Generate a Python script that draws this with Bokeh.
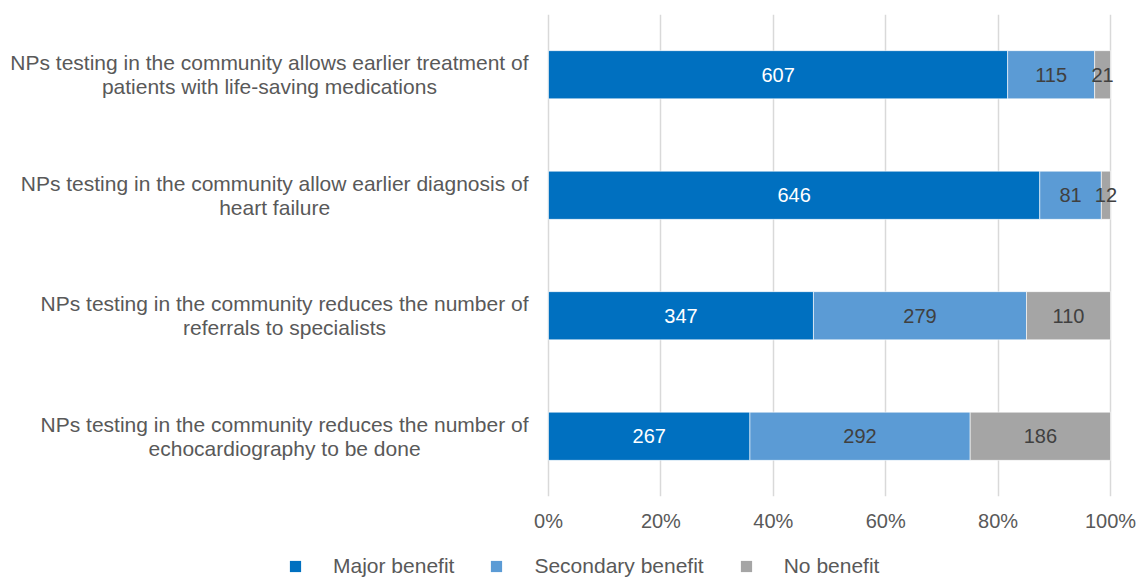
from bokeh.plotting import figure
from bokeh.layouts import column
from bokeh.models import (FactorRange, Range1d, NumeralTickFormatter, FixedTicker,
                          Legend, LegendItem, ColumnDataSource)
from bokeh.embed import file_html
from bokeh.resources import INLINE
from bokeh.core.properties import value

categories = [
    "NPs testing in the community allows earlier treatment of\npatients with life-saving medications",
    "NPs testing in the community allow earlier diagnosis of\nheart failure",
    "NPs testing in the community reduces the number of\nreferrals to specialists",
    "NPs testing in the community reduces the number of\nechocardiography to be done",
]
major = [607, 646, 347, 267]
secondary = [115, 81, 279, 292]
no_benefit = [21, 12, 110, 186]
series_names = ["Major benefit", "Secondary benefit", "No benefit"]
colors = ["#0070C0", "#5B9BD5", "#A5A5A5"]
ticks = [0, 0.2, 0.4, 0.6, 0.8, 1.0]

FONT = "Liberation Sans"
W, H = 1137, 578
H1 = 540                      # main chart height, legend strip below
ZERO_PX, FULL_PX = 548, 1110  # pixel positions of 0% and 100%
scale = FULL_PX - ZERO_PX

totals = [a + b + c for a, b, c in zip(major, secondary, no_benefit)]
f_major = [a / t for a, t in zip(major, totals)]
f_sec = [b / t for b, t in zip(secondary, totals)]
f_no = [c / t for c, t in zip(no_benefit, totals)]

src = ColumnDataSource(dict(cat=categories, major=f_major, secondary=f_sec, none=f_no))

p = figure(width=W, height=H1, output_backend="svg", toolbar_location=None,
           y_range=FactorRange(factors=list(reversed(categories))),
           x_range=Range1d(-ZERO_PX / scale, 1 + (W - FULL_PX) / scale),
           min_border_left=0, min_border_right=0, min_border_top=14, min_border_bottom=44)
p.outline_line_color = None
p.background_fill_color = "white"
p.border_fill_color = "white"

renderers = p.hbar_stack(["major", "secondary", "none"], y="cat", height=0.4, color=colors,
                         line_color="white", line_width=0.6, source=src)

# value labels
lab_x, lab_y, lab_t, lab_c = [], [], [], []
for i, cat in enumerate(categories):
    starts = [0, f_major[i], f_major[i] + f_sec[i]]
    widths = [f_major[i], f_sec[i], f_no[i]]
    vals = [major[i], secondary[i], no_benefit[i]]
    for j in range(3):
        lab_x.append(starts[j] + widths[j] / 2)
        lab_y.append(cat)
        lab_t.append(str(vals[j]))
        lab_c.append("white" if j == 0 else "#404040")
p.text(x=lab_x, y=lab_y, text=lab_t, text_color=lab_c, text_align="center",
       text_baseline="middle", text_font=value(FONT), text_font_size="20px")

# category labels
p.text(x=[0] * len(categories), y=categories, text=categories, x_offset=-20,
       anchor="center_right", text_align="center", text_baseline="middle",
       text_font=value(FONT), text_font_size="21px", text_color="#595959",
       text_line_height=1.05)

p.yaxis.visible = False
p.ygrid.grid_line_color = None
p.xgrid.grid_line_color = "#D9D9D9"
p.xgrid.grid_line_width = 1.5
p.xaxis.ticker = FixedTicker(ticks=ticks)
p.xaxis.formatter = NumeralTickFormatter(format="0%")
p.xaxis.axis_line_color = None
p.xaxis.major_tick_line_color = None
p.xaxis.minor_tick_line_color = None
p.xaxis.major_tick_out = 0
p.xaxis.major_tick_in = 0
p.xaxis.major_label_text_font = FONT
p.xaxis.major_label_text_font_size = "20px"
p.xaxis.major_label_text_color = "#595959"
p.xaxis.major_label_standoff = 13

# legend strip (swatch renderers are hidden; only their legend glyphs are drawn)
H2 = H - H1
p2 = figure(width=W, height=H2, output_backend="svg", toolbar_location=None,
            x_range=Range1d(0, W), y_range=Range1d(0, H2),
            min_border_left=0, min_border_right=0, min_border_top=0, min_border_bottom=0)
p2.axis.visible = False
p2.grid.grid_line_color = None
p2.outline_line_color = None
p2.background_fill_color = "white"
p2.border_fill_color = "white"
swatches = []
for c in colors:
    r = p2.hbar(y=[0], left=[0], right=[0], height=1, fill_color=c, line_color=None)
    r.visible = False
    swatches.append(r)
legend = Legend(items=[LegendItem(label=series_names[k], renderers=[swatches[k]]) for k in range(3)],
                orientation="horizontal", location=(288, 0), padding=0, margin=0,
                spacing=35, label_standoff=31, glyph_width=14, glyph_height=14,
                label_text_font=FONT, label_text_font_size="21px", label_text_color="#595959",
                background_fill_alpha=0, border_line_alpha=0, click_policy="none")
p2.add_layout(legend, "center")

open("out.html", "w").write(file_html(column(p, p2, spacing=0), INLINE))
